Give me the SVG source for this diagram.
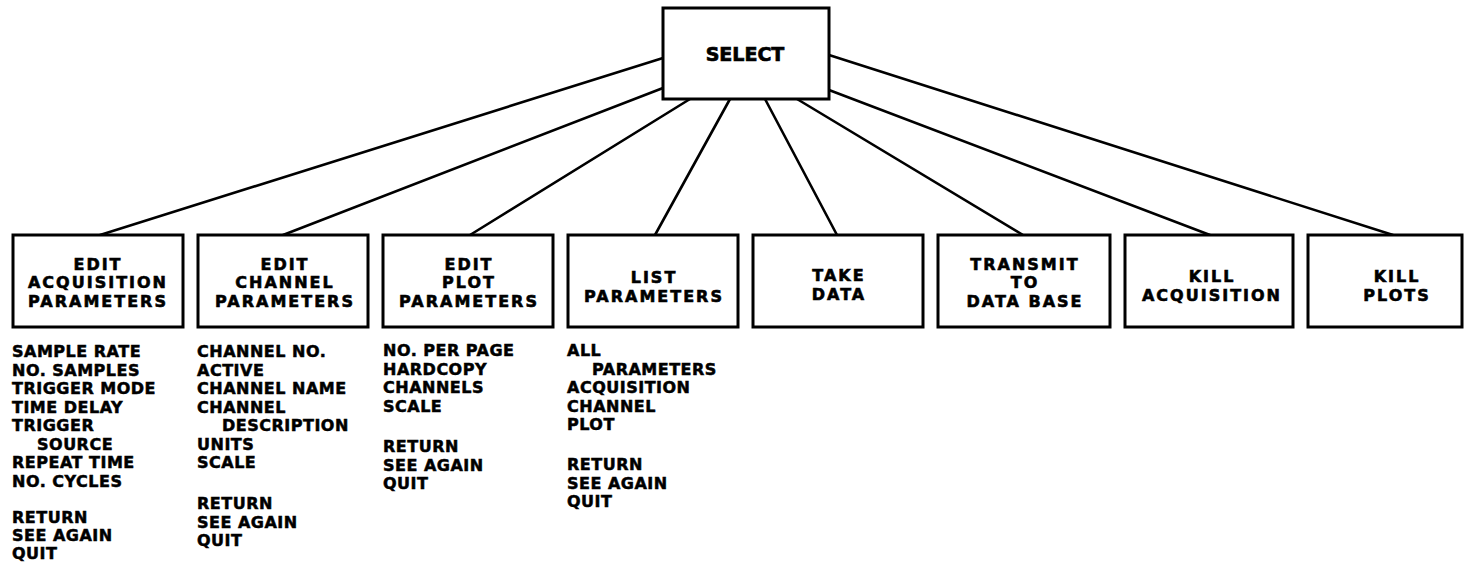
<svg xmlns="http://www.w3.org/2000/svg" width="1465" height="570" viewBox="0 0 1465 570">
  <style>
    .box { fill: #fff; stroke: #000; stroke-width: 3; }
    .link { stroke: #000; stroke-width: 2.6; fill: none; stroke-linecap: round; }
    .lbl { font-family: "DejaVu Sans", "Liberation Sans", sans-serif; font-weight: bold; font-size: 16px; text-anchor: middle; letter-spacing: 2px; fill: #000; stroke: #000; stroke-width: 0.6px; }
    .sel { font-family: "DejaVu Sans", "Liberation Sans", sans-serif; font-weight: bold; font-size: 19px; text-anchor: middle; fill: #000; stroke: #000; stroke-width: 0.7px; }
    .opt { font-family: "DejaVu Sans", "Liberation Sans", sans-serif; font-weight: bold; font-size: 16px; letter-spacing: 0.5px; fill: #000; stroke: #000; stroke-width: 0.5px; }
  </style>

  <rect width="1465" height="570" fill="#fff"/>

  <!-- connectors from SELECT to each menu item -->
  <g id="connectors">
    <line class="link" x1="663" y1="58" x2="100" y2="235"/>
    <line class="link" x1="663" y1="88" x2="283" y2="235"/>
    <line class="link" x1="690" y1="99" x2="470" y2="235"/>
    <line class="link" x1="730" y1="99" x2="655" y2="235"/>
    <line class="link" x1="765" y1="99" x2="837" y2="235"/>
    <line class="link" x1="797" y1="99" x2="1023" y2="235"/>
    <line class="link" x1="829" y1="90" x2="1210" y2="235"/>
    <line class="link" x1="829" y1="55" x2="1393" y2="235"/>
  </g>

  <g id="select">
    <rect class="box" x="663" y="8" width="166" height="91"/>
    <text class="sel" x="745" y="61">SELECT</text>
  </g>

  <g id="edit-acquisition">
    <rect class="box" x="13" y="235" width="170" height="92"/>
    <text class="lbl" x="98" y="269.5">EDIT</text>
    <text class="lbl" x="98" y="288">ACQUISITION</text>
    <text class="lbl" x="98" y="306.5">PARAMETERS</text>
  </g>

  <g id="edit-channel">
    <rect class="box" x="198" y="235" width="170" height="92"/>
    <text class="lbl" x="285" y="269.5">EDIT</text>
    <text class="lbl" x="285" y="288">CHANNEL</text>
    <text class="lbl" x="285" y="306.5">PARAMETERS</text>
  </g>

  <g id="edit-plot">
    <rect class="box" x="383" y="235" width="170" height="92"/>
    <text class="lbl" x="469" y="269.5">EDIT</text>
    <text class="lbl" x="469" y="288">PLOT</text>
    <text class="lbl" x="469" y="306.5">PARAMETERS</text>
  </g>

  <g id="list-parameters">
    <rect class="box" x="568" y="235" width="170" height="92"/>
    <text class="lbl" x="654" y="283">LIST</text>
    <text class="lbl" x="654" y="302">PARAMETERS</text>
  </g>

  <g id="take-data">
    <rect class="box" x="753" y="235" width="170" height="92"/>
    <text class="lbl" x="839" y="281">TAKE</text>
    <text class="lbl" x="839" y="300">DATA</text>
  </g>

  <g id="transmit">
    <rect class="box" x="938" y="235" width="172" height="92"/>
    <text class="lbl" x="1025" y="269.5">TRANSMIT</text>
    <text class="lbl" x="1025" y="288">TO</text>
    <text class="lbl" x="1025" y="306.5">DATA BASE</text>
  </g>

  <g id="kill-acquisition">
    <rect class="box" x="1125" y="235" width="168" height="92"/>
    <text class="lbl" x="1212" y="282">KILL</text>
    <text class="lbl" x="1212" y="300.5">ACQUISITION</text>
  </g>

  <g id="kill-plots">
    <rect class="box" x="1308" y="235" width="154" height="92"/>
    <text class="lbl" x="1397" y="282">KILL</text>
    <text class="lbl" x="1397" y="300.5">PLOTS</text>
  </g>

  <!-- option lists under the edit/list items -->
  <g id="acquisition-options" class="opt">
    <text x="12" y="357">SAMPLE RATE</text>
    <text x="12" y="375.5">NO. SAMPLES</text>
    <text x="12" y="394">TRIGGER MODE</text>
    <text x="12" y="412.5">TIME DELAY</text>
    <text x="12" y="431">TRIGGER</text>
    <text x="37" y="449.5">SOURCE</text>
    <text x="12" y="468">REPEAT TIME</text>
    <text x="12" y="487">NO. CYCLES</text>
    <text x="12" y="522.5">RETURN</text>
    <text x="12" y="541">SEE AGAIN</text>
    <text x="12" y="559">QUIT</text>
  </g>

  <g id="channel-options" class="opt">
    <text x="197" y="357">CHANNEL NO.</text>
    <text x="197" y="375.5">ACTIVE</text>
    <text x="197" y="394">CHANNEL NAME</text>
    <text x="197" y="412.5">CHANNEL</text>
    <text x="222" y="431">DESCRIPTION</text>
    <text x="197" y="449.5">UNITS</text>
    <text x="197" y="468">SCALE</text>
    <text x="197" y="509">RETURN</text>
    <text x="197" y="527.5">SEE AGAIN</text>
    <text x="197" y="546">QUIT</text>
  </g>

  <g id="plot-options" class="opt">
    <text x="383" y="356">NO. PER PAGE</text>
    <text x="383" y="374.5">HARDCOPY</text>
    <text x="383" y="393">CHANNELS</text>
    <text x="383" y="411.5">SCALE</text>
    <text x="383" y="452">RETURN</text>
    <text x="383" y="470.5">SEE AGAIN</text>
    <text x="383" y="489">QUIT</text>
  </g>

  <g id="list-options" class="opt">
    <text x="567" y="356">ALL</text>
    <text x="592" y="374.5">PARAMETERS</text>
    <text x="567" y="393">ACQUISITION</text>
    <text x="567" y="411.5">CHANNEL</text>
    <text x="567" y="430">PLOT</text>
    <text x="567" y="470">RETURN</text>
    <text x="567" y="488.5">SEE AGAIN</text>
    <text x="567" y="507">QUIT</text>
  </g>
</svg>
